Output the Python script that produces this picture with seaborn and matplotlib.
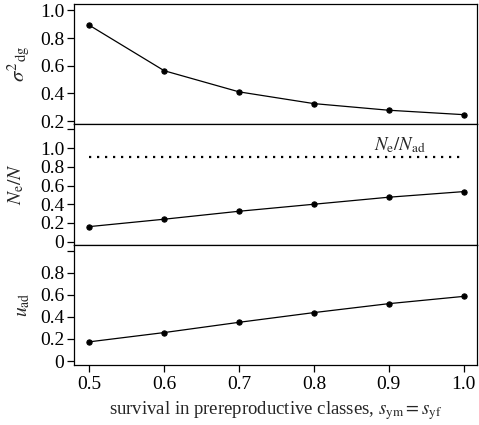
import matplotlib
matplotlib.use("Agg")
import matplotlib.pyplot as plt
import seaborn as sns
import pandas as pd

survival = [0.5, 0.6, 0.7, 0.8, 0.9, 1.0]
sigma2_dg = [0.893, 0.564, 0.411, 0.326, 0.278, 0.246]
ne_over_n = [0.161, 0.240, 0.325, 0.400, 0.475, 0.535]
ne_over_nad = 0.90
u_ad = [0.174, 0.258, 0.351, 0.439, 0.520, 0.586]
xticks = [0.5, 0.6, 0.7, 0.8, 0.9, 1.0]

sns.set_theme(style="ticks")
plt.rcParams['font.family'] = ['Liberation Serif', 'DejaVu Serif']
plt.rcParams['mathtext.fontset'] = 'stix'
plt.rcParams['font.size'] = 13.5
plt.rcParams['xtick.labelsize'] = 14
plt.rcParams['ytick.labelsize'] = 14
plt.rcParams['axes.labelsize'] = 13.5

df = pd.DataFrame({"s": survival, "sig": sigma2_dg, "ne": ne_over_n, "u": u_ad})

fig, axes = plt.subplots(3, 1, figsize=(4.79, 4.25), dpi=100, sharex=True)
fig.subplots_adjust(left=0.1545, right=0.996, top=0.9906, bottom=0.1412, hspace=0)

kw = dict(color="black", marker="o", markersize=3.8, linewidth=0.9,
          markeredgecolor="black")

ax = axes[0]
sns.lineplot(data=df, x="s", y="sig", ax=ax, **kw)
ax.set_ylim(0.176, 1.047)
ax.set_yticks([0.2, 0.4, 0.6, 0.8, 1.0])
ax.set_yticklabels(["0.2", "0.4", "0.6", "0.8", "1.0"])
ax.set_ylabel(r'$\sigma^{2}{}_{\rm dg}$', fontsize=15)
ax.yaxis.set_label_coords(-0.105, 0.5)

ax = axes[1]
sns.lineplot(data=df, x="s", y="ne", ax=ax, **kw)
ax.plot([survival[0], survival[-1]], [ne_over_nad, ne_over_nad],
        color="black", linestyle=(0, (1, 2.6)), linewidth=1.6)
ax.text(0.915, 1.03, r'$N_{\rm e}/N_{\rm ad}$', ha="center", va="center",
        fontsize=13.5)
ax.set_ylim(-0.032, 1.254)
ax.set_yticks([0, 0.2, 0.4, 0.6, 0.8, 1.0, 1.2])
ax.set_yticklabels(["0", "0.2", "0.4", "0.6", "0.8", "1.0", ""])
ax.set_ylabel(r'$N_{\rm e}/N$', fontsize=14)
ax.yaxis.set_label_coords(-0.118, 0.5)

ax = axes[2]
sns.lineplot(data=df, x="s", y="u", ax=ax, **kw)
ax.set_ylim(-0.036, 1.055)
ax.set_yticks([0, 0.2, 0.4, 0.6, 0.8, 1.0])
ax.set_yticklabels(["0", "0.2", "0.4", "0.6", "0.8", ""])
ax.set_ylabel(r'$u_{\rm ad}$', fontsize=14)
ax.yaxis.set_label_coords(-0.105, 0.5)

ax.set_xlim(0.4795, 1.018)
ax.set_xticks(xticks)
ax.set_xticklabels(["0.5", "0.6", "0.7", "0.8", "0.9", "1.0"])
ax.set_xlabel(r'survival in prereproductive classes, $s_{\rm ym} = s_{\rm yf}$')

for a in axes:
    for sp in a.spines.values():
        sp.set_visible(True)
        sp.set_linewidth(0.9)
        sp.set_color("black")
    a.tick_params(axis="y", direction="out", length=5, width=0.9, colors="black", pad=2)
    a.tick_params(axis="x", direction="out", length=5, width=0.9, colors="black", pad=3)
    a.grid(False)
for a in axes[:2]:
    a.tick_params(axis="x", length=0, labelbottom=False)
    a.set_xlabel("")

fig.savefig("out.png", dpi=100)
